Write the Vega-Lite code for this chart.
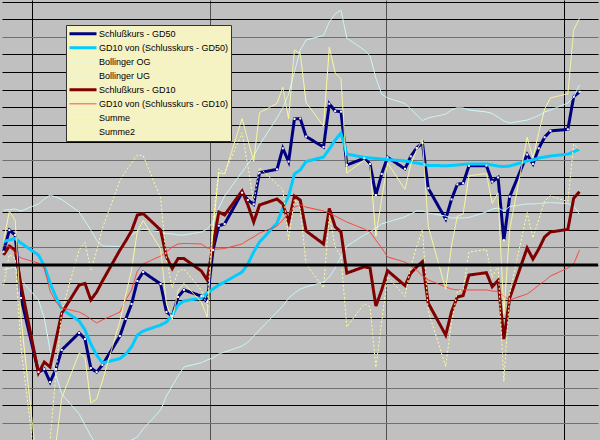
{
  "$schema": "https://vega.github.io/schema/vega-lite/v6.json",
  "width": 600,
  "height": 440,
  "autosize": {"type": "fit", "contains": "padding"},
  "padding": 0,
  "background": "#c0c0c0",
  "config": {"view": {"stroke": null, "fill": "#c0c0c0"}},
  "data": {"values": [
    {"d":1,"Schlußkurs - GD50":0.76,"GD10 von (Schlusskurs - GD50)":1.34,"Bollinger OG":3.13,"Bollinger UG":-0.26,"Schlußkurs - GD10":0.57,"GD10 von (Schlusskurs - GD10)":1.14,"Summe":1.33,"Summe2":-1.15},
    {"d":2,"Schlußkurs - GD50":1.99,"GD10 von (Schlusskurs - GD50)":1.42,"Bollinger OG":3.16,"Bollinger UG":-0.20,"Schlußkurs - GD10":1.08,"GD10 von (Schlusskurs - GD10)":1.05,"Summe":3.07,"Summe2":0.60},
    {"d":3,"Schlußkurs - GD50":1.71,"GD10 von (Schlusskurs - GD50)":1.51,"Bollinger OG":3.19,"Bollinger UG":-0.11,"Schlußkurs - GD10":0.85,"GD10 von (Schlusskurs - GD10)":0.68,"Summe":2.56,"Summe2":0.37},
    {"d":4,"Schlußkurs - GD50":-1.88,"GD10 von (Schlusskurs - GD50)":1.25,"Bollinger OG":3.08,"Bollinger UG":-0.85,"Schlußkurs - GD10":-1.14,"GD10 von (Schlusskurs - GD10)":0.40,"Summe":-3.02,"Summe2":-4.67},
    {"d":7,"Schlußkurs - GD50":-6.10,"GD10 von (Schlusskurs - GD50)":0.57,"Bollinger OG":3.48,"Bollinger UG":-1.99,"Schlußkurs - GD10":-6.15,"GD10 von (Schlusskurs - GD10)":0.11,"Summe":-12.25,"Summe2":-12.93},
    {"d":8,"Schlußkurs - GD50":-5.93,"GD10 von (Schlusskurs - GD50)":-0.06,"Bollinger OG":3.76,"Bollinger UG":-3.02,"Schlußkurs - GD10":-5.53,"GD10 von (Schlusskurs - GD10)":-0.17,"Summe":-11.46,"Summe2":-11.23},
    {"d":9,"Schlußkurs - GD50":-6.67,"GD10 von (Schlusskurs - GD50)":-1.03,"Bollinger OG":3.99,"Bollinger UG":-4.84,"Schlußkurs - GD10":-5.81,"GD10 von (Schlusskurs - GD10)":-1.48,"Summe":-12.48,"Summe2":-9.97},
    {"d":10,"Schlußkurs - GD50":-5.93,"GD10 von (Schlusskurs - GD50)":-1.82,"Bollinger OG":3.87,"Bollinger UG":-6.27,"Schlußkurs - GD10":-4.27,"GD10 von (Schlusskurs - GD10)":-2.11,"Summe":-10.20,"Summe2":-6.27},
    {"d":11,"Schlußkurs - GD50":-4.84,"GD10 von (Schlusskurs - GD50)":-2.51,"Bollinger OG":3.73,"Bollinger UG":-7.35,"Schlußkurs - GD10":-2.74,"GD10 von (Schlusskurs - GD10)":-2.45,"Summe":-7.58,"Summe2":-2.62},
    {"d":14,"Schlußkurs - GD50":-3.87,"GD10 von (Schlusskurs - GD50)":-3.19,"Bollinger OG":3.02,"Bollinger UG":-8.49,"Schlußkurs - GD10":-1.14,"GD10 von (Schlusskurs - GD10)":-2.68,"Summe":-5.01,"Summe2":0.86},
    {"d":15,"Schlußkurs - GD50":-4.22,"GD10 von (Schlusskurs - GD50)":-3.70,"Bollinger OG":2.51,"Bollinger UG":-9.12,"Schlußkurs - GD10":-1.05,"GD10 von (Schlusskurs - GD10)":-2.85,"Summe":-5.27,"Summe2":1.28},
    {"d":16,"Schlußkurs - GD50":-5.87,"GD10 von (Schlusskurs - GD50)":-4.50,"Bollinger OG":1.99,"Bollinger UG":-9.74,"Schlußkurs - GD10":-1.99,"GD10 von (Schlusskurs - GD10)":-3.08,"Summe":-7.86,"Summe2":-0.28},
    {"d":17,"Schlußkurs - GD50":-6.10,"GD10 von (Schlusskurs - GD50)":-5.13,"Bollinger OG":1.42,"Bollinger UG":-10.26,"Schlußkurs - GD10":-1.54,"GD10 von (Schlusskurs - GD10)":-3.30,"Summe":-7.64,"Summe2":0.79},
    {"d":18,"Schlußkurs - GD50":-5.70,"GD10 von (Schlusskurs - GD50)":-5.58,"Bollinger OG":1.08,"Bollinger UG":-10.66,"Schlußkurs - GD10":-0.91,"GD10 von (Schlusskurs - GD10)":-3.13,"Summe":-6.61,"Summe2":2.10},
    {"d":21,"Schlußkurs - GD50":-4.05,"GD10 von (Schlusskurs - GD50)":-5.33,"Bollinger OG":1.05,"Bollinger UG":-10.66,"Schlußkurs - GD10":0.85,"GD10 von (Schlusskurs - GD10)":-2.68,"Summe":-3.20,"Summe2":4.81},
    {"d":22,"Schlußkurs - GD50":-3.08,"GD10 von (Schlusskurs - GD50)":-5.07,"Bollinger OG":1.42,"Bollinger UG":-10.26,"Schlußkurs - GD10":1.37,"GD10 von (Schlusskurs - GD10)":-1.99,"Summe":-1.71,"Summe2":5.35},
    {"d":23,"Schlußkurs - GD50":-2.22,"GD10 von (Schlusskurs - GD50)":-4.67,"Bollinger OG":1.71,"Bollinger UG":-9.97,"Schlußkurs - GD10":1.94,"GD10 von (Schlusskurs - GD10)":-1.42,"Summe":-0.28,"Summe2":5.81},
    {"d":24,"Schlußkurs - GD50":-0.91,"GD10 von (Schlusskurs - GD50)":-3.99,"Bollinger OG":1.94,"Bollinger UG":-9.80,"Schlußkurs - GD10":2.85,"GD10 von (Schlusskurs - GD10)":-0.34,"Summe":1.94,"Summe2":6.27},
    {"d":25,"Schlußkurs - GD50":-0.40,"GD10 von (Schlusskurs - GD50)":-3.76,"Bollinger OG":2.05,"Bollinger UG":-9.34,"Schlußkurs - GD10":2.93,"GD10 von (Schlusskurs - GD10)":0.06,"Summe":2.53,"Summe2":6.23},
    {"d":28,"Schlußkurs - GD50":-1.08,"GD10 von (Schlusskurs - GD50)":-3.42,"Bollinger OG":1.88,"Bollinger UG":-8.26,"Schlußkurs - GD10":1.99,"GD10 von (Schlusskurs - GD10)":0.51,"Summe":0.91,"Summe2":3.82},
    {"d":29,"Schlußkurs - GD50":-2.68,"GD10 von (Schlusskurs - GD50)":-3.25,"Bollinger OG":1.79,"Bollinger UG":-7.46,"Schlußkurs - GD10":0.46,"GD10 von (Schlusskurs - GD10)":0.74,"Summe":-2.22,"Summe2":0.29},
    {"d":30,"Schlußkurs - GD50":-2.91,"GD10 von (Schlusskurs - GD50)":-2.85,"Bollinger OG":1.77,"Bollinger UG":-6.89,"Schlußkurs - GD10":-0.20,"GD10 von (Schlusskurs - GD10)":1.03,"Summe":-3.11,"Summe2":-1.29},
    {"d":31,"Schlußkurs - GD50":-1.82,"GD10 von (Schlusskurs - GD50)":-2.28,"Bollinger OG":1.71,"Bollinger UG":-6.32,"Schlußkurs - GD10":0.37,"GD10 von (Schlusskurs - GD10)":1.20,"Summe":-1.45,"Summe2":-0.37},
    {"d":32,"Schlußkurs - GD50":-1.42,"GD10 von (Schlusskurs - GD50)":-2.05,"Bollinger OG":1.71,"Bollinger UG":-5.81,"Schlußkurs - GD10":0.37,"GD10 von (Schlusskurs - GD10)":1.23,"Summe":-1.05,"Summe2":-0.23},
    {"d":35,"Schlußkurs - GD50":-1.77,"GD10 von (Schlusskurs - GD50)":-1.88,"Bollinger OG":1.88,"Bollinger UG":-5.56,"Schlußkurs - GD10":-0.34,"GD10 von (Schlusskurs - GD10)":1.20,"Summe":-2.11,"Summe2":-1.43},
    {"d":36,"Schlußkurs - GD50":-2.11,"GD10 von (Schlusskurs - GD50)":-1.60,"Bollinger OG":2.05,"Bollinger UG":-5.41,"Schlußkurs - GD10":-0.85,"GD10 von (Schlusskurs - GD10)":0.97,"Summe":-2.96,"Summe2":-2.33},
    {"d":37,"Schlußkurs - GD50":0.85,"GD10 von (Schlusskurs - GD50)":-1.37,"Bollinger OG":2.45,"Bollinger UG":-5.30,"Schlußkurs - GD10":1.14,"GD10 von (Schlusskurs - GD10)":0.91,"Summe":1.99,"Summe2":2.45},
    {"d":38,"Schlußkurs - GD50":2.24,"GD10 von (Schlusskurs - GD50)":-1.14,"Bollinger OG":3.25,"Bollinger UG":-5.07,"Schlußkurs - GD10":3.02,"GD10 von (Schlusskurs - GD10)":0.91,"Summe":5.26,"Summe2":5.49},
    {"d":39,"Schlußkurs - GD50":2.34,"GD10 von (Schlusskurs - GD50)":-0.97,"Bollinger OG":3.93,"Bollinger UG":-4.96,"Schlußkurs - GD10":2.85,"GD10 von (Schlusskurs - GD10)":0.94,"Summe":5.19,"Summe2":5.22},
    {"d":42,"Schlußkurs - GD50":4.12,"GD10 von (Schlusskurs - GD50)":-0.40,"Bollinger OG":5.30,"Bollinger UG":-4.62,"Schlußkurs - GD10":4.22,"GD10 von (Schlusskurs - GD10)":1.20,"Summe":8.34,"Summe2":7.54},
    {"d":43,"Schlußkurs - GD50":3.70,"GD10 von (Schlusskurs - GD50)":0.06,"Bollinger OG":5.75,"Bollinger UG":-4.39,"Schlußkurs - GD10":3.42,"GD10 von (Schlusskurs - GD10)":1.42,"Summe":7.12,"Summe2":5.64},
    {"d":44,"Schlußkurs - GD50":3.46,"GD10 von (Schlusskurs - GD50)":0.74,"Bollinger OG":6.21,"Bollinger UG":-4.05,"Schlußkurs - GD10":2.45,"GD10 von (Schlusskurs - GD10)":1.60,"Summe":5.91,"Summe2":3.57},
    {"d":45,"Schlußkurs - GD50":5.26,"GD10 von (Schlusskurs - GD50)":1.31,"Bollinger OG":6.84,"Bollinger UG":-3.70,"Schlußkurs - GD10":3.42,"GD10 von (Schlusskurs - GD10)":1.82,"Summe":8.68,"Summe2":5.55},
    {"d":48,"Schlußkurs - GD50":5.45,"GD10 von (Schlusskurs - GD50)":2.39,"Bollinger OG":8.38,"Bollinger UG":-2.68,"Schlußkurs - GD10":3.76,"GD10 von (Schlusskurs - GD10)":2.22,"Summe":9.21,"Summe2":4.60},
    {"d":49,"Schlußkurs - GD50":6.65,"GD10 von (Schlusskurs - GD50)":3.25,"Bollinger OG":8.95,"Bollinger UG":-2.34,"Schlußkurs - GD10":3.48,"GD10 von (Schlusskurs - GD10)":2.56,"Summe":10.13,"Summe2":4.32},
    {"d":50,"Schlußkurs - GD50":5.89,"GD10 von (Schlusskurs - GD50)":3.93,"Bollinger OG":9.74,"Bollinger UG":-1.88,"Schlußkurs - GD10":2.45,"GD10 von (Schlusskurs - GD10)":2.96,"Summe":8.34,"Summe2":1.45},
    {"d":51,"Schlußkurs - GD50":8.32,"GD10 von (Schlusskurs - GD50)":5.19,"Bollinger OG":11.00,"Bollinger UG":-1.60,"Schlußkurs - GD10":3.93,"GD10 von (Schlusskurs - GD10)":3.30,"Summe":12.25,"Summe2":3.76},
    {"d":52,"Schlußkurs - GD50":8.35,"GD10 von (Schlusskurs - GD50)":5.41,"Bollinger OG":12.25,"Bollinger UG":-1.37,"Schlußkurs - GD10":3.70,"GD10 von (Schlusskurs - GD10)":3.42,"Summe":12.05,"Summe2":3.22},
    {"d":53,"Schlußkurs - GD50":7.32,"GD10 von (Schlusskurs - GD50)":5.90,"Bollinger OG":12.82,"Bollinger UG":-1.25,"Schlußkurs - GD10":1.94,"GD10 von (Schlusskurs - GD10)":3.30,"Summe":9.26,"Summe2":0.06},
    {"d":56,"Schlußkurs - GD50":6.72,"GD10 von (Schlusskurs - GD50)":6.15,"Bollinger OG":13.08,"Bollinger UG":-0.97,"Schlußkurs - GD10":1.20,"GD10 von (Schlusskurs - GD10)":3.08,"Summe":7.92,"Summe2":-1.31},
    {"d":57,"Schlußkurs - GD50":9.19,"GD10 von (Schlusskurs - GD50)":6.61,"Bollinger OG":13.85,"Bollinger UG":-0.68,"Schlußkurs - GD10":3.22,"GD10 von (Schlusskurs - GD10)":2.96,"Summe":12.41,"Summe2":2.84},
    {"d":58,"Schlußkurs - GD50":8.77,"GD10 von (Schlusskurs - GD50)":7.12,"Bollinger OG":14.30,"Bollinger UG":-0.17,"Schlußkurs - GD10":2.18,"GD10 von (Schlusskurs - GD10)":2.79,"Summe":10.95,"Summe2":1.04},
    {"d":59,"Schlußkurs - GD50":8.74,"GD10 von (Schlusskurs - GD50)":7.52,"Bollinger OG":14.53,"Bollinger UG":0.46,"Schlußkurs - GD10":1.88,"GD10 von (Schlusskurs - GD10)":2.62,"Summe":10.62,"Summe2":0.48},
    {"d":60,"Schlußkurs - GD50":5.70,"GD10 von (Schlusskurs - GD50)":6.32,"Bollinger OG":12.93,"Bollinger UG":1.08,"Schlußkurs - GD10":-0.46,"GD10 von (Schlusskurs - GD10)":2.45,"Summe":5.24,"Summe2":-3.53},
    {"d":63,"Schlußkurs - GD50":6.08,"GD10 von (Schlusskurs - GD50)":6.13,"Bollinger OG":12.25,"Bollinger UG":1.71,"Schlußkurs - GD10":-0.10,"GD10 von (Schlusskurs - GD10)":2.05,"Summe":5.98,"Summe2":-2.20},
    {"d":64,"Schlußkurs - GD50":5.76,"GD10 von (Schlusskurs - GD50)":6.10,"Bollinger OG":11.91,"Bollinger UG":1.88,"Schlußkurs - GD10":-0.17,"GD10 von (Schlusskurs - GD10)":1.88,"Summe":5.59,"Summe2":-2.39},
    {"d":65,"Schlußkurs - GD50":3.99,"GD10 von (Schlusskurs - GD50)":6.07,"Bollinger OG":10.66,"Bollinger UG":2.11,"Schlußkurs - GD10":-2.34,"GD10 von (Schlusskurs - GD10)":1.42,"Summe":1.65,"Summe2":-5.84},
    {"d":66,"Schlußkurs - GD50":5.19,"GD10 von (Schlusskurs - GD50)":6.04,"Bollinger OG":9.74,"Bollinger UG":2.34,"Schlußkurs - GD10":-1.42,"GD10 von (Schlusskurs - GD10)":0.97,"Summe":3.77,"Summe2":-3.24},
    {"d":67,"Schlußkurs - GD50":6.14,"GD10 von (Schlusskurs - GD50)":6.01,"Bollinger OG":9.52,"Bollinger UG":2.45,"Schlußkurs - GD10":-0.32,"GD10 von (Schlusskurs - GD10)":0.46,"Summe":5.82,"Summe2":-0.65},
    {"d":70,"Schlußkurs - GD50":5.48,"GD10 von (Schlusskurs - GD50)":5.93,"Bollinger OG":9.20,"Bollinger UG":2.74,"Schlußkurs - GD10":-1.17,"GD10 von (Schlusskurs - GD10)":0.17,"Summe":4.31,"Summe2":-1.79},
    {"d":71,"Schlußkurs - GD50":6.19,"GD10 von (Schlusskurs - GD50)":5.87,"Bollinger OG":8.89,"Bollinger UG":2.91,"Schlußkurs - GD10":-0.46,"GD10 von (Schlusskurs - GD10)":-0.06,"Summe":5.73,"Summe2":-0.08},
    {"d":72,"Schlußkurs - GD50":6.67,"GD10 von (Schlusskurs - GD50)":5.81,"Bollinger OG":8.55,"Bollinger UG":3.08,"Schlußkurs - GD10":-0.11,"GD10 von (Schlusskurs - GD10)":-0.28,"Summe":6.56,"Summe2":1.03},
    {"d":73,"Schlußkurs - GD50":6.95,"GD10 von (Schlusskurs - GD50)":5.76,"Bollinger OG":8.23,"Bollinger UG":3.08,"Schlußkurs - GD10":0.19,"GD10 von (Schlusskurs - GD10)":-0.63,"Summe":7.14,"Summe2":2.01},
    {"d":74,"Schlußkurs - GD50":4.37,"GD10 von (Schlusskurs - GD50)":5.67,"Bollinger OG":8.38,"Bollinger UG":2.96,"Schlußkurs - GD10":-2.17,"GD10 von (Schlusskurs - GD10)":-0.85,"Summe":2.20,"Summe2":-2.62},
    {"d":77,"Schlußkurs - GD50":2.62,"GD10 von (Schlusskurs - GD50)":5.66,"Bollinger OG":8.60,"Bollinger UG":2.79,"Schlußkurs - GD10":-3.99,"GD10 von (Schlusskurs - GD10)":-1.25,"Summe":-1.37,"Summe2":-5.78},
    {"d":78,"Schlußkurs - GD50":3.74,"GD10 von (Schlusskurs - GD50)":5.67,"Bollinger OG":8.83,"Bollinger UG":2.68,"Schlußkurs - GD10":-2.66,"GD10 von (Schlusskurs - GD10)":-1.37,"Summe":1.08,"Summe2":-3.22},
    {"d":79,"Schlußkurs - GD50":4.60,"GD10 von (Schlusskurs - GD50)":5.70,"Bollinger OG":8.97,"Bollinger UG":2.68,"Schlußkurs - GD10":-1.82,"GD10 von (Schlusskurs - GD10)":-1.42,"Summe":2.78,"Summe2":-1.50},
    {"d":80,"Schlußkurs - GD50":4.66,"GD10 von (Schlusskurs - GD50)":5.73,"Bollinger OG":8.95,"Bollinger UG":2.68,"Schlußkurs - GD10":-1.74,"GD10 von (Schlusskurs - GD10)":-1.42,"Summe":2.92,"Summe2":-1.39},
    {"d":81,"Schlußkurs - GD50":5.65,"GD10 von (Schlusskurs - GD50)":5.76,"Bollinger OG":8.83,"Bollinger UG":2.71,"Schlußkurs - GD10":-0.57,"GD10 von (Schlusskurs - GD10)":-1.42,"Summe":5.08,"Summe2":0.74},
    {"d":84,"Schlußkurs - GD50":5.66,"GD10 von (Schlusskurs - GD50)":5.76,"Bollinger OG":8.72,"Bollinger UG":3.02,"Schlußkurs - GD10":-0.44,"GD10 von (Schlusskurs - GD10)":-1.42,"Summe":5.22,"Summe2":0.88},
    {"d":85,"Schlußkurs - GD50":4.75,"GD10 von (Schlusskurs - GD50)":5.70,"Bollinger OG":8.63,"Bollinger UG":3.19,"Schlußkurs - GD10":-1.24,"GD10 von (Schlusskurs - GD10)":-1.48,"Summe":3.51,"Summe2":-0.71},
    {"d":86,"Schlußkurs - GD50":4.99,"GD10 von (Schlusskurs - GD50)":5.64,"Bollinger OG":8.43,"Bollinger UG":3.25,"Schlußkurs - GD10":-0.88,"GD10 von (Schlusskurs - GD10)":-1.51,"Summe":4.11,"Summe2":-0.02},
    {"d":87,"Schlußkurs - GD50":1.42,"GD10 von (Schlusskurs - GD50)":5.61,"Bollinger OG":8.21,"Bollinger UG":3.08,"Schlußkurs - GD10":-4.22,"GD10 von (Schlusskurs - GD10)":-1.77,"Summe":-2.80,"Summe2":-6.64},
    {"d":88,"Schlußkurs - GD50":3.89,"GD10 von (Schlusskurs - GD50)":5.64,"Bollinger OG":8.09,"Bollinger UG":3.33,"Schlußkurs - GD10":-1.88,"GD10 von (Schlusskurs - GD10)":-1.99,"Summe":2.01,"Summe2":-1.64},
    {"d":91,"Schlußkurs - GD50":6.30,"GD10 von (Schlusskurs - GD50)":5.93,"Bollinger OG":8.26,"Bollinger UG":3.48,"Schlußkurs - GD10":0.97,"GD10 von (Schlusskurs - GD10)":-1.65,"Summe":7.27,"Summe2":2.99},
    {"d":92,"Schlußkurs - GD50":5.76,"GD10 von (Schlusskurs - GD50)":5.98,"Bollinger OG":8.38,"Bollinger UG":3.48,"Schlußkurs - GD10":0.34,"GD10 von (Schlusskurs - GD10)":-1.42,"Summe":6.10,"Summe2":1.54},
    {"d":93,"Schlußkurs - GD50":6.65,"GD10 von (Schlusskurs - GD50)":6.10,"Bollinger OG":8.52,"Bollinger UG":3.50,"Schlußkurs - GD10":0.91,"GD10 von (Schlusskurs - GD10)":-1.14,"Summe":7.56,"Summe2":2.60},
    {"d":94,"Schlußkurs - GD50":7.28,"GD10 von (Schlusskurs - GD50)":6.15,"Bollinger OG":8.72,"Bollinger UG":3.53,"Schlußkurs - GD10":1.60,"GD10 von (Schlusskurs - GD10)":-0.91,"Summe":8.88,"Summe2":3.64},
    {"d":95,"Schlußkurs - GD50":7.64,"GD10 von (Schlusskurs - GD50)":6.21,"Bollinger OG":8.83,"Bollinger UG":3.56,"Schlußkurs - GD10":1.88,"GD10 von (Schlusskurs - GD10)":-0.63,"Summe":9.52,"Summe2":3.94},
    {"d":98,"Schlußkurs - GD50":7.73,"GD10 von (Schlusskurs - GD50)":6.32,"Bollinger OG":9.23,"Bollinger UG":3.50,"Schlußkurs - GD10":2.03,"GD10 von (Schlusskurs - GD10)":-0.17,"Summe":9.76,"Summe2":3.61},
    {"d":99,"Schlußkurs - GD50":9.59,"GD10 von (Schlusskurs - GD50)":6.44,"Bollinger OG":9.57,"Bollinger UG":3.36,"Schlußkurs - GD10":3.80,"GD10 von (Schlusskurs - GD10)":0.06,"Summe":13.39,"Summe2":6.89},
    {"d":100,"Schlußkurs - GD50":9.87,"GD10 von (Schlusskurs - GD50)":6.61,"Bollinger OG":10.26,"Bollinger UG":2.91,"Schlußkurs - GD10":4.18,"GD10 von (Schlusskurs - GD10)":0.85,"Summe":14.05,"Summe2":6.59}
  ]},
  "resolve": {"scale": {"x": "shared", "y": "shared"}},
  "layer": [
    {
      "transform": [{"fold": ["Schlußkurs - GD50", "GD10 von (Schlusskurs - GD50)", "Bollinger OG", "Bollinger UG", "Schlußkurs - GD10", "GD10 von (Schlusskurs - GD10)", "Summe", "Summe2"], "as": ["series", "value"]}],
      "mark": {"type": "line", "clip": true},
      "encoding": {
        "x": {"field": "d", "type": "quantitative",
          "scale": {"domain": [0.734, 103.18], "nice": false, "zero": false},
          "axis": {"values": [5.86, 36.42, 66.81, 97.37], "tickCount": 10, "grid": true, "gridColor": {"condition": {"test": "datum.value > 20 && datum.value < 80", "value": "#505050"}, "value": "#000000"}, "gridOpacity": 1, "gridWidth": 1, "labels": false, "ticks": false, "domain": false, "title": null}},
        "y": {"field": "value", "type": "quantitative",
          "scale": {"domain": [-9.97, 15.1], "nice": false, "zero": false},
          "axis": {"values": [-9,-8,-7,-6,-5,-4,-3,-2,-1,0,1,2,3,4,5,6,7,8,9,10,11,12,13,14,15], "tickCount": 40, "grid": true, "gridColor": {"condition": {"test": "datum.value == 13 || datum.value == 6 || datum.value == 1 || datum.value == -4 || datum.value == -7 || datum.value == -9", "value": "#707070"}, "value": "#000000"}, "gridOpacity": 1, "gridWidth": 1, "labels": false, "ticks": false, "domain": false, "title": null}},
        "color": {"field": "series", "type": "nominal",
          "scale": {"domain": ["Schlußkurs - GD50", "GD10 von (Schlusskurs - GD50)", "Bollinger OG", "Bollinger UG", "Schlußkurs - GD10", "GD10 von (Schlusskurs - GD10)", "Summe", "Summe2"],
                    "range": ["#000080", "#00CCFF", "#CCFFFF", "#CCFFFF", "#800000", "#FF3B2F", "#FFFF99", "#FFFF99"]},
          "legend": {"title": null, "orient": "none", "legendX": 64, "legendY": 25, "fillColor": "#F5F2C4", "strokeColor": "#333333", "padding": 2, "symbolType": "stroke", "symbolSize": 729, "clipHeight": 13.6, "rowPadding": 0, "labelFont": "Liberation Sans", "labelFontSize": 9, "labelColor": "#000000", "labelOffset": 1, "labelLimit": 300, "symbolOpacity": 1}},
        "strokeWidth": {"field": "series", "type": "nominal",
          "scale": {"type": "ordinal", "domain": ["Schlußkurs - GD50", "GD10 von (Schlusskurs - GD50)", "Bollinger OG", "Bollinger UG", "Schlußkurs - GD10", "GD10 von (Schlusskurs - GD10)", "Summe", "Summe2"],
                    "range": [3, 3, 1, 1, 3, 1, 1, 1]}, "legend": {"title": null}},
        "strokeDash": {"field": "series", "type": "nominal",
          "scale": {"domain": ["Schlußkurs - GD50", "GD10 von (Schlusskurs - GD50)", "Bollinger OG", "Bollinger UG", "Schlußkurs - GD10", "GD10 von (Schlusskurs - GD10)", "Summe", "Summe2"],
                    "range": [[1, 0], [1, 0], [1, 0], [1, 0], [1, 0], [1, 0], [1, 0], [2, 2]]}, "legend": {"title": null}}
      }
    },
    {
      "data": {"values": [{"v": 0}]},
      "mark": {"type": "rule", "color": "#000000", "strokeWidth": 3},
      "encoding": {
        "y": {"field": "v", "type": "quantitative"}
      }
    },
    {
      "mark": {"type": "point", "shape": "square", "filled": true, "color": "#ffffff", "size": 4, "opacity": 1},
      "encoding": {
        "x": {"field": "d", "type": "quantitative"},
        "y": {"field": "Schlußkurs - GD50", "type": "quantitative"}
      }
    }
  ]
}
